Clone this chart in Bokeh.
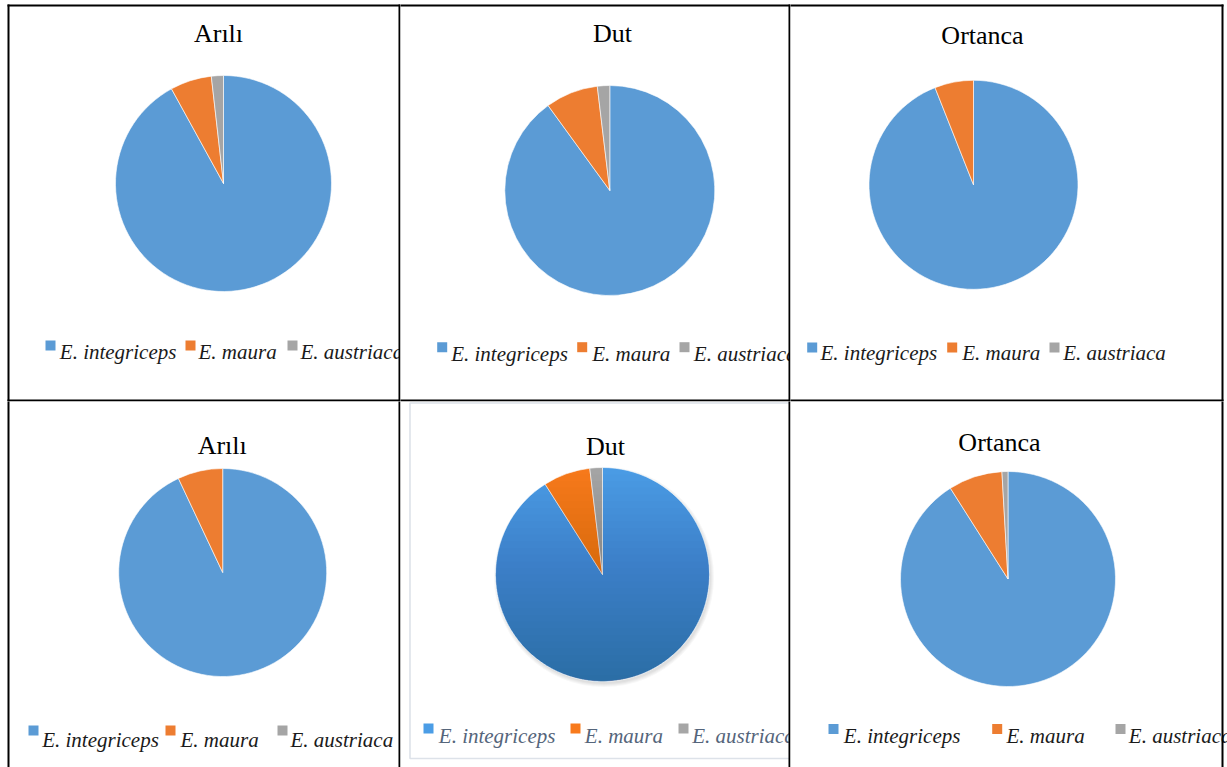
import math

import numpy as np
from bokeh.core.properties import value
from bokeh.embed import file_html
from bokeh.layouts import column, row
from bokeh.models import Range1d
from bokeh.plotting import figure
from bokeh.resources import INLINE

# ---------------------------------------------------------------- data
species = ["E. integriceps", "E. maura", "E. austriaca"]
titles = ["Arılı", "Dut", "Ortanca", "Arılı", "Dut", "Ortanca"]

# share of each species (%) per locality, first and second survey
arili_1 = [92.0, 6.2, 1.8]
dut_1 = [90.0, 8.1, 1.9]
ortanca_1 = [94.0, 6.0, 0.0]
arili_2 = [93.0, 7.0, 0.0]
dut_2 = [91.0, 7.1, 1.9]
ortanca_2 = [91.0, 8.1, 0.9]
shares = [arili_1, dut_1, ortanca_1, arili_2, dut_2, ortanca_2]

# ---------------------------------------------------------------- styles
FLAT = ["#5b9bd5", "#ed7d31", "#a5a5a5"]
GLOSSY = ["#4b9de6", "#f87a1c", "#a6a6a6"]
SERIF = value("Liberation Serif")

# each cell owns the rule on its right / bottom edge
COL_EDGES = [0, 400, 790, 1227]
ROW_EDGES = [0, 401, 767]

# per-cell layout: pie centre/radius, title, legend row (page pixels)
cells = [
    dict(c=(223, 183), r=108, t=(218, 33.3), mk=[45, 185, 287], my=345,
         tx=[59.3, 198, 300], ty=351.7),
    dict(c=(609.3, 190), r=105, t=(612, 33.3), mk=[436.7, 576.7, 679], my=346.7,
         tx=[450.7, 591.7, 693.3], ty=353.3),
    dict(c=(973, 184.3), r=104.5, t=(982, 35), mk=[806.7, 946.7, 1049], my=347,
         tx=[820, 961.7, 1062.7], ty=352.7),
    dict(c=(222.2, 572), r=104, t=(221.7, 445), mk=[28, 165, 277], my=730,
         tx=[41.7, 180, 290], ty=739.5),
    dict(c=(602, 574), r=107, t=(605, 445.7), mk=[423, 570, 678], my=728,
         tx=[438.3, 584.3, 691.7], ty=735, glossy=True),
    dict(c=(1007.5, 578.5), r=107.5, t=(999, 441.7), mk=[828, 991.7, 1115], my=728.5,
         tx=[843.3, 1006, 1128.3], ty=735.7),
]

# table rules (page pixels): x0, y0, x1, y1
rules = [
    (7, 5, 1223, 5),        # top border
    (8, 4, 8, 767),         # left border
    (1222, 4, 1222, 767),   # right border
    (399, 4, 399, 767),     # column rule
    (789, 4, 789, 767),     # column rule
    (7, 400, 1223, 400),    # row rule
]


def make_cell(idx):
    ci, ri = idx % 3, idx // 3
    x0, x1 = COL_EDGES[ci], COL_EDGES[ci + 1]
    y0, y1 = ROW_EDGES[ri], ROW_EDGES[ri + 1]
    w, h = x1 - x0, y1 - y0

    def lx(gx):
        return gx - x0

    def ly(gy):
        return h - (gy - y0)

    p = figure(width=w, height=h, x_range=Range1d(0, w), y_range=Range1d(0, h),
               output_backend="svg", toolbar_location=None,
               x_axis_location=None, y_axis_location=None, min_border=0)
    p.grid.visible = False
    p.outline_line_color = None
    p.background_fill_color = "white"
    p.border_fill_color = "white"

    spec = cells[idx]
    glossy = spec.get("glossy", False)
    colors = GLOSSY if glossy else FLAT
    cx, cy = lx(spec["c"][0]), ly(spec["c"][1])
    r = spec["r"]

    if glossy:
        # chart-area frame
        p.quad(left=[lx(409.5)], right=[lx(795)], top=[ly(402.5)], bottom=[ly(758)],
               fill_color=None, line_color="#dde2e9", line_width=1.6)
        # soft drop shadow
        for k in range(4):
            p.circle(x=[cx + 1.5], y=[cy - 2.5], radius=r + 3 - k,
                     fill_color="black", fill_alpha=0.03, line_color=None)

    # slices, clockwise from twelve o'clock
    vals = shares[idx]
    total = sum(vals)
    starts, ends, fills = [], [], []
    cum = 0.0
    for v, col in zip(vals, colors):
        if v <= 0:
            continue
        a0 = math.pi / 2 - 2 * math.pi * cum / total
        cum += v
        a1 = math.pi / 2 - 2 * math.pi * cum / total
        starts.append(a0)
        ends.append(a1)
        fills.append(col)
    n = len(starts)
    p.wedge(x=[cx] * n, y=[cy] * n, radius=r, start_angle=starts, end_angle=ends,
            direction="clock", fill_color=fills, line_color="white", line_width=0.6)

    if glossy:
        # vertical shading: stacked circular segments, darker towards the bottom
        steps = 32
        xs, ys = [], []
        for k in range(steps):
            s = 1 - 2 * k / steps
            a = math.asin(max(-1.0, min(1.0, s)))
            th = np.linspace(math.pi - a, 2 * math.pi + a, 120)
            xs.append(list(cx + r * np.cos(th)))
            ys.append(list(cy + r * np.sin(th)))
        p.patches(xs=xs, ys=ys, fill_color="black", fill_alpha=0.009, line_color=None)

    # title
    p.text(x=[lx(spec["t"][0])], y=[ly(spec["t"][1])], text=[titles[idx]],
           text_font=SERIF, text_font_size="26px", text_align="center",
           text_baseline="alphabetic", text_color="#000000")

    # legend row
    txt_color = "#55657b" if glossy else "#1a1a1a"
    p.rect(x=[lx(m + 5) for m in spec["mk"]], y=[ly(spec["my"])] * 3,
           width=10, height=10, fill_color=colors, line_color=None)
    p.text(x=[lx(t) for t in spec["tx"]], y=[ly(spec["ty"])] * 3, text=species,
           text_font=SERIF, text_font_size="21px", text_font_style="italic",
           text_align="left", text_baseline="alphabetic", text_color=txt_color)

    # table rules
    sx0, sy0, sx1, sy1 = [], [], [], []
    for gx0, gy0, gx1, gy1 in rules:
        sx0.append(lx(gx0)); sy0.append(ly(gy0))
        sx1.append(lx(gx1)); sy1.append(ly(gy1))
    p.segment(x0=sx0, y0=sy0, x1=sx1, y1=sy1, line_color="black", line_width=2)
    return p


panels = [make_cell(i) for i in range(6)]
layout = column(row(*panels[:3], spacing=0), row(*panels[3:], spacing=0), spacing=0)

open("out.html", "w").write(file_html(layout, INLINE))
